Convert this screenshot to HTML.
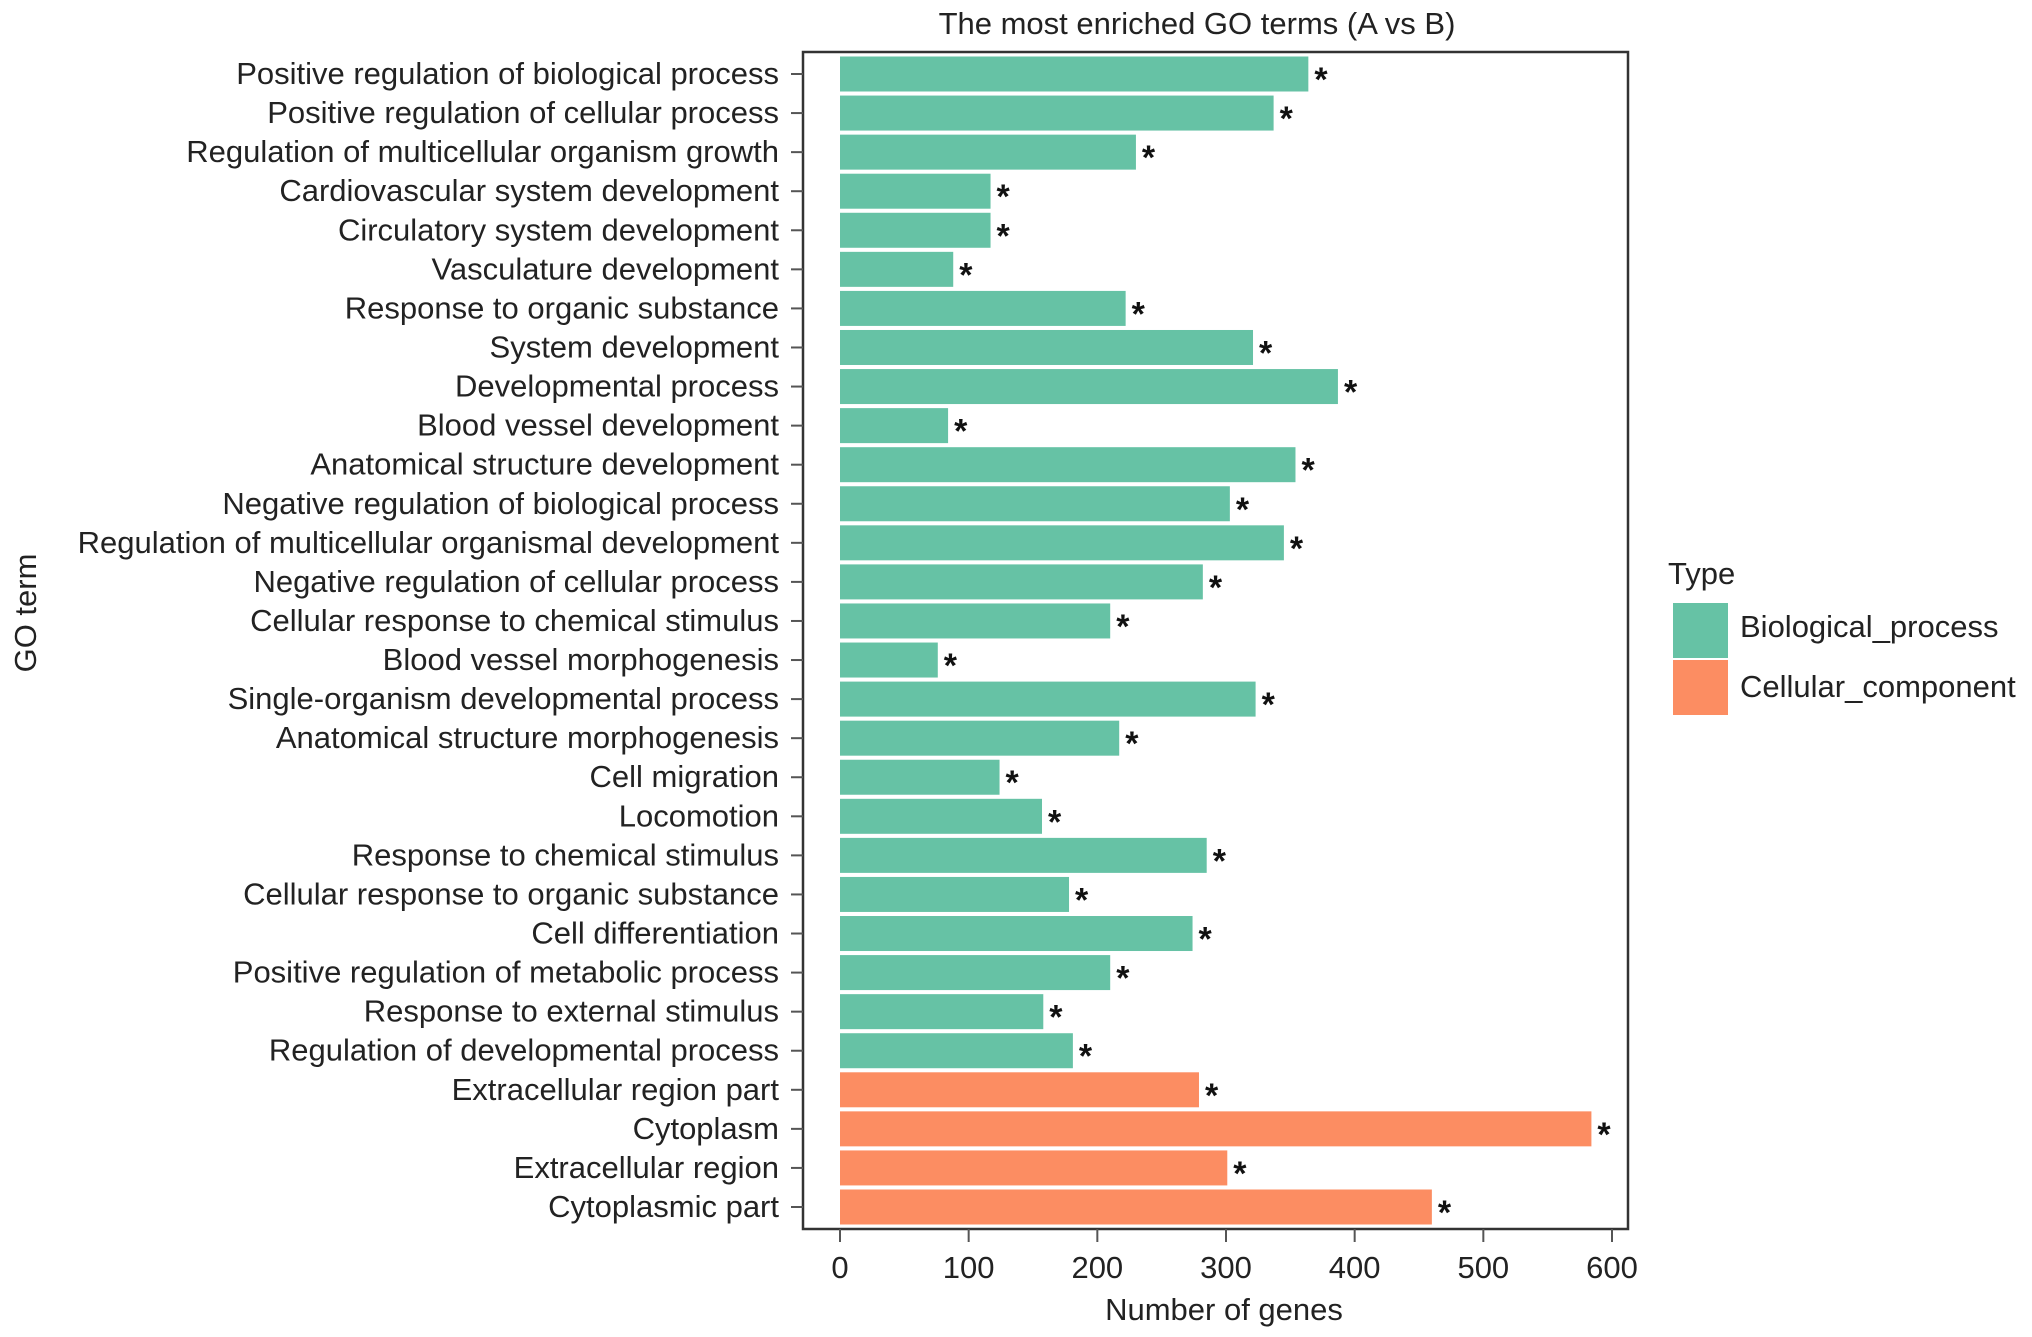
<!DOCTYPE html>
<html><head><meta charset="utf-8"><style>
html,body{margin:0;padding:0;background:#fff}
svg{display:block;font-family:"Liberation Sans",Arial,sans-serif}
</style></head><body>
<svg id="chart" width="2032" height="1337" viewBox="0 0 2032 1337">
<text x="1197" y="34" font-size="31" text-anchor="middle" fill="#222">The most enriched GO terms (A vs B)</text>
<rect x="803" y="52" width="825" height="1177" fill="none" stroke="#333" stroke-width="2.5"/>
<g id="bars"></g>
<g id="ylabels"></g>
<g id="xaxis"></g>
<text x="1224" y="1320" font-size="31" text-anchor="middle" fill="#222">Number of genes</text>
<text transform="translate(36,613) rotate(-90)" font-size="31" text-anchor="middle" fill="#222">GO term</text>
<text x="1668" y="584" font-size="31" fill="#222">Type</text>
<rect x="1673" y="603" width="55" height="55" fill="#66c2a5"/>
<text x="1740" y="637" font-size="31" fill="#222">Biological_process</text>
<rect x="1673" y="660" width="55" height="55" fill="#fc8d62"/>
<text x="1740" y="697" font-size="31" fill="#222">Cellular_component</text>
</svg>
<script>
const categories = ["Positive regulation of biological process","Positive regulation of cellular process","Regulation of multicellular organism growth","Cardiovascular system development","Circulatory system development","Vasculature development","Response to organic substance","System development","Developmental process","Blood vessel development","Anatomical structure development","Negative regulation of biological process","Regulation of multicellular organismal development","Negative regulation of cellular process","Cellular response to chemical stimulus","Blood vessel morphogenesis","Single-organism developmental process","Anatomical structure morphogenesis","Cell migration","Locomotion","Response to chemical stimulus","Cellular response to organic substance","Cell differentiation","Positive regulation of metabolic process","Response to external stimulus","Regulation of developmental process","Extracellular region part","Cytoplasm","Extracellular region","Cytoplasmic part"];
const values = [364,337,230,117,117,88,222,321,387,84,354,303,345,282,210,76,323,217,124,157,285,178,274,210,158,181,279,584,301,460];
const types = ["BP","BP","BP","BP","BP","BP","BP","BP","BP","BP","BP","BP","BP","BP","BP","BP","BP","BP","BP","BP","BP","BP","BP","BP","BP","BP","CC","CC","CC","CC"];
const xTicks = [0,100,200,300,400,500,600];

const NS="http://www.w3.org/2000/svg";
const x0=840, x600=1612;
const xs=v=>x0+(x600-x0)*v/600;
const rowTop=74, rowBot=1207;
const ys=i=>rowTop+(rowBot-rowTop)*i/(categories.length-1);
const bh=35;
const colors={BP:"#66c2a5",CC:"#fc8d62"};
function mk(tag,attrs,parent){const e=document.createElementNS(NS,tag);for(const k in attrs)e.setAttribute(k,attrs[k]);parent.appendChild(e);return e;}
const gb=document.getElementById('bars'), gl=document.getElementById('ylabels'), gx=document.getElementById('xaxis');
categories.forEach((c,i)=>{
  const y=ys(i);
  const r=mk('rect',{x:x0,y:y-bh/2,width:xs(values[i])-x0,height:bh,fill:colors[types[i]]},gb);
  
  
  const s=mk('text',{x:xs(values[i])+6,y:y+17,'font-size':34,'font-weight':'bold',fill:'#111'},gb);
  s.textContent='*';
  
  
  const t=mk('line',{x1:791,x2:803,y1:y,y2:y,stroke:'#555','stroke-width':2},gl);
  
  
  const l=mk('text',{x:779,y:y+10,'font-size':31,'text-anchor':'end',fill:'#222'},gl);
  l.textContent=c;
  
  
});
xTicks.forEach(v=>{
  const x=xs(v);
  const t=mk('line',{x1:x,x2:x,y1:1229,y2:1242,stroke:'#555','stroke-width':2},gx);
  
  
  const l=mk('text',{x:x,y:1278,'font-size':31,'text-anchor':'middle',fill:'#222'},gx);
  l.textContent=v;
  
  
});
</script>
</body></html>
